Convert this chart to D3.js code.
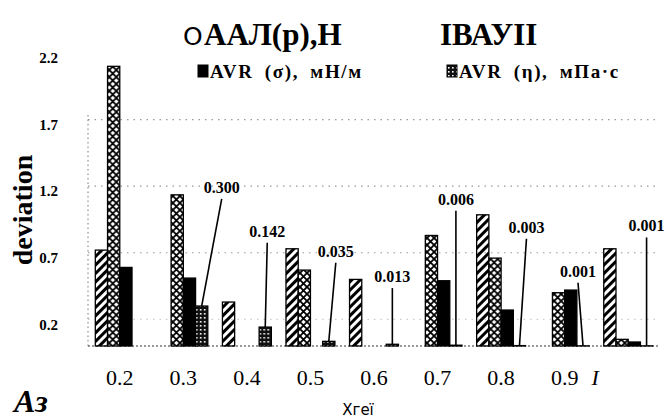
<!DOCTYPE html>
<html>
<head>
<meta charset="utf-8">
<script src="https://cdn.jsdelivr.net/npm/d3@7"></script>
<style>
    body { margin: 0; background: #fff; }
    svg text { font-family: "Liberation Serif", "Times New Roman", serif; fill: #000; }
</style>
</head>
<body>
<svg id="chart" width="669" height="418"></svg>
<script>
// x categories, the last one came out of the scan as an italic "I"
var groups = ["0.2", "0.3", "0.4", "0.5", "0.6", "0.7", "0.8", "0.9", "1"];
var groupLabels = ["0.2", "0.3", "0.4", "0.5", "0.6", "0.7", "0.8", "0.9", "I"];
var seriesKeys = ["aal", "ivaui", "sigma", "eta"];
var titleNames = ["ААЛ(р),Н", "IВАУII"];
var legendNames = ["AVR (σ), мН/м", "AVR (η), мПа·с"];

// deviations, null = no bar in that group
var aalValues = [0.72, null, 0.33, 0.73, 0.50, null, 0.985, null, 0.73];
var ivauiValues = [2.10, 1.135, null, 0.57, null, 0.83, 0.66, 0.40, 0.05];
var sigmaValues = [0.59, 0.51, null, null, null, 0.49, 0.27, 0.42, 0.03];
var etaValues = [null, 0.300, 0.142, 0.035, 0.013, 0.006, 0.003, 0.001, 0.001];

var yTicks = [0.2, 0.7, 1.2, 1.7, 2.2];

var svg = d3.select('#chart');
var margin = {left: 88, right: 9, top: 53, bottom: 72};
var width = 669, height = 418;
var serif = '"Liberation Serif", "Times New Roman", serif';

var x0 = d3.scaleBand()
    .domain(groups)
    .range([margin.left, width - margin.right])
    .paddingInner(0.23)
    .paddingOuter(0.115);

var x1 = d3.scaleBand()
    .domain(seriesKeys)
    .range([0, x0.bandwidth()]);

var y = d3.scaleLinear()
    .domain([0, 2.2])
    .range([height - margin.bottom, margin.top]);

// patterns: diagonal hatch, lattice, solid, dense dotted
var defs = svg.append('defs');
defs.append('pattern')
    .attr('id', 'pat-aal')
    .attr('patternUnits', 'userSpaceOnUse')
    .attr('width', 6).attr('height', 6)
    .attr('patternTransform', 'rotate(45)')
    .append('rect')
    .attr('width', 3).attr('height', 6)
    .attr('fill', '#000');

var lattice = defs.append('pattern')
    .attr('id', 'pat-ivaui')
    .attr('patternUnits', 'userSpaceOnUse')
    .attr('width', 7).attr('height', 7);
lattice.append('rect').attr('width', 7).attr('height', 7).attr('fill', '#fff');
lattice.append('path')
    .attr('d', 'M0,0L7,7M7,0L0,7')
    .attr('stroke', '#000')
    .attr('stroke-width', 1.8);

var dense = defs.append('pattern')
    .attr('id', 'pat-eta')
    .attr('patternUnits', 'userSpaceOnUse')
    .attr('width', 4).attr('height', 4);
dense.append('rect').attr('width', 4).attr('height', 4).attr('fill', '#111');
dense.append('rect').attr('x', 1).attr('y', 1).attr('width', 1.6).attr('height', 1.6).attr('fill', '#fff');

var fills = {aal: 'url(#pat-aal)', ivaui: 'url(#pat-ivaui)', sigma: '#000', eta: 'url(#pat-eta)'};

// dotted grid
var grid = svg.append('g');
grid.selectAll('line')
    .data(yTicks.filter(function (t) { return t < 2 }))
    .enter().append('line')
    .attr('x1', margin.left)
    .attr('x2', width - margin.right)
    .attr('y1', function (d) { return y(d) })
    .attr('y2', function (d) { return y(d) })
    .attr('stroke', function (d) { return d < 0.5 ? '#ccc' : '#999' })
    .attr('stroke-width', 1.2)
    .attr('stroke-dasharray', '1.5,5');

grid.append('line')
    .attr('x1', margin.left).attr('x2', margin.left)
    .attr('y1', y(0)).attr('y2', y(1.75))
    .attr('stroke', '#777')
    .attr('stroke-dasharray', '1.5,3');

grid.append('line')
    .attr('x1', margin.left).attr('x2', width - margin.right)
    .attr('y1', y(0)).attr('y2', y(0))
    .attr('stroke', '#333')
    .attr('stroke-width', 1.2)
    .attr('stroke-dasharray', '2,2');

// bars
var rows = groups.map(function (g, i) {
    return {
        group: g,
        values: [
            {key: 'aal', value: aalValues[i]},
            {key: 'ivaui', value: ivauiValues[i]},
            {key: 'sigma', value: sigmaValues[i]},
            {key: 'eta', value: etaValues[i]}
        ]
    };
});

var groupSel = svg.append('g').selectAll('g')
    .data(rows)
    .enter().append('g')
    .attr('transform', function (d) { return 'translate(' + x0(d.group) + ',0)' });

groupSel.selectAll('rect')
    .data(function (d) { return d.values.filter(function (v) { return v.value != null }) })
    .enter().append('rect')
    .attr('x', function (d) { return x1(d.key) })
    .attr('width', x1.bandwidth())
    .attr('y', function (d) { return y(d.value) })
    .attr('height', function (d) { return y(0) - y(d.value) })
    .attr('fill', function (d) { return fills[d.key] })
    .attr('stroke', '#000')
    .attr('stroke-width', 1.3);

// callouts for the eta values: horizontal shift in px, label height in data units
var calloutDx = [0, 20, 2, 7, 0, 0, 7, -5, 0];
var calloutAt = [null, 1.15, 0.82, 0.67, 0.48, 1.06, 0.85, 0.52, 0.86];

var callouts = svg.append('g').selectAll('g')
    .data(groups.map(function (g, i) {
        return {group: g, value: etaValues[i], dx: calloutDx[i], at: calloutAt[i]};
    }).filter(function (d) { return d.value != null }))
    .enter().append('g');

callouts.append('line')
    .attr('x1', function (d) { return x0(d.group) + x1('eta') + x1.bandwidth() / 2 })
    .attr('y1', function (d) { return y(d.value) })
    .attr('x2', function (d) { return x0(d.group) + x1('eta') + x1.bandwidth() / 2 + d.dx })
    .attr('y2', function (d) { return y(d.at) + 6 })
    .attr('stroke', '#000')
    .attr('stroke-width', 1.6);

callouts.append('text')
    .attr('x', function (d) { return x0(d.group) + x1('eta') + x1.bandwidth() / 2 + d.dx })
    .attr('y', function (d) { return y(d.at) })
    .attr('text-anchor', 'middle')
    .style('font-family', serif)
    .style('font-size', '16px')
    .style('font-weight', 'bold')
    .text(function (d) { return d3.format('.3f')(d.value) });

// y axis labels
var yAxis = svg.append('g')
    .attr('transform', 'translate(' + (margin.left - 27) + ',0)')
    .call(d3.axisLeft(y).tickValues(yTicks).tickSize(0).tickFormat(d3.format('.1f')));
yAxis.select('.domain').remove();
yAxis.selectAll('text')
    .attr('dy', '0.65em')
    .style('font-family', serif)
    .style('font-size', '15px')
    .style('font-weight', 'bold');

svg.append('text')
    .attr('transform', 'translate(32,' + 210 + ')rotate(-90)')
    .attr('text-anchor', 'middle')
    .style('font-family', serif)
    .style('font-size', '28px')
    .style('font-weight', 'bold')
    .text('deviation');

// x axis labels
var xAxis = svg.append('g')
    .attr('transform', 'translate(0,' + (y(0) + 20) + ')')
    .call(d3.axisBottom(x0).tickSize(0).tickFormat(function (d, i) { return groupLabels[i] }));
xAxis.select('.domain').remove();
xAxis.selectAll('text')
    .style('font-family', serif)
    .style('font-size', '22px');
xAxis.selectAll('.tick').filter(function (d) { return d == '1' })
    .select('text')
    .attr('x', -33)
    .style('font-style', 'italic');

svg.append('text')
    .attr('x', 358).attr('y', 415)
    .attr('text-anchor', 'middle')
    .style('font-family', '"DejaVu Sans", sans-serif')
    .style('font-size', '15px')
    .text('Хгеї');

svg.append('text')
    .attr('x', 14).attr('y', 412)
    .style('font-family', serif)
    .style('font-size', '32px')
    .style('font-weight', 'bold')
    .style('font-style', 'italic')
    .text('Аз');

// header row (series names as printed) and legend row
var head = svg.append('g');
head.append('text')
    .attr('x', 183).attr('y', 45)
    .style('font-family', '"DejaVu Sans", sans-serif')
    .style('font-size', '25px')
    .text('О');
head.selectAll('text.title')
    .data(titleNames)
    .enter().append('text')
    .attr('class', 'title')
    .attr('x', function (d, i) { return i == 0 ? 204 : 440 })
    .attr('y', 45)
    .style('font-family', serif)
    .style('font-size', '31px')
    .style('font-weight', 'bold')
    .text(function (d) { return d });

var legend = head.selectAll('g.legend')
    .data(legendNames)
    .enter().append('g')
    .attr('class', 'legend')
    .attr('transform', function (d, i) { return 'translate(' + (i == 0 ? 198 : 447) + ',78)' });

legend.append('rect')
    .attr('y', -13)
    .attr('width', 10).attr('height', 12)
    .attr('fill', function (d, i) { return i == 0 ? fills.sigma : fills.eta })
    .attr('stroke', '#000');

legend.append('text')
    .attr('x', 12)
    .style('font-family', serif)
    .style('font-size', '19px')
    .style('font-weight', 'bold')
    .style('letter-spacing', '1.6px')
    .style('word-spacing', '5px')
    .text(function (d) { return d });
</script>
</body>
</html>
